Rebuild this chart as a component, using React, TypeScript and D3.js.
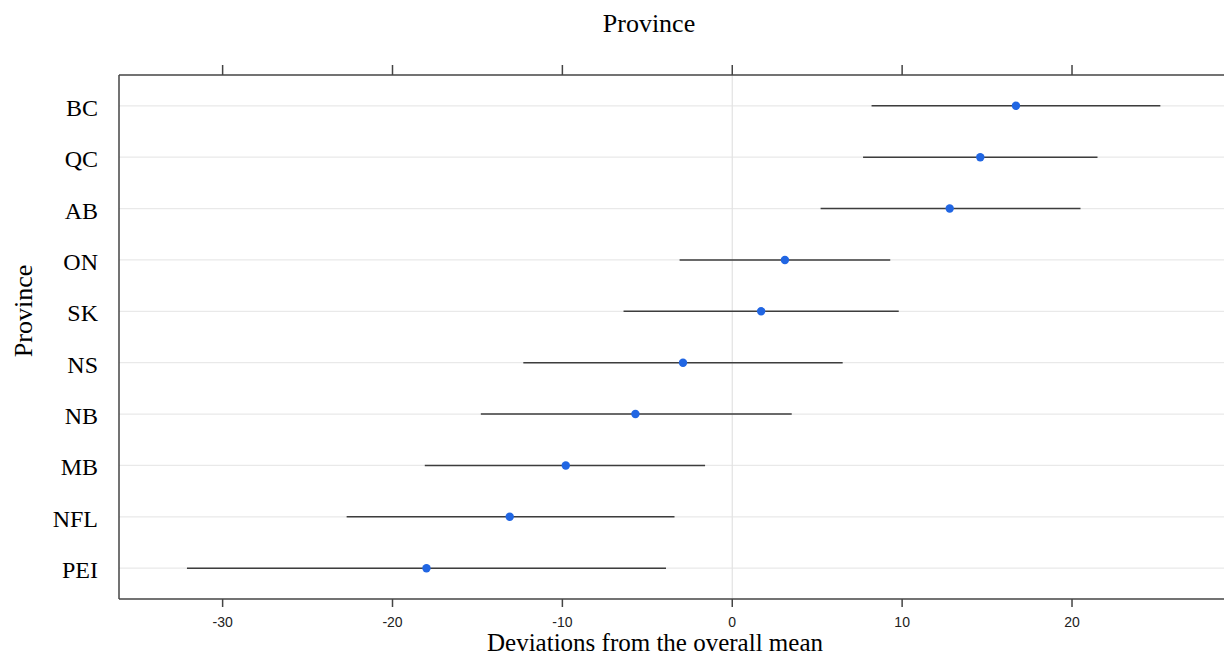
import React from 'react';
import * as d3 from 'd3';

// provinces from top to bottom, with estimate and interval ends
const provinces = ['BC', 'QC', 'AB', 'ON', 'SK', 'NS', 'NB', 'MB', 'NFL', 'PEI'];
const estimates = [16.7, 14.6, 12.8, 3.1, 1.7, -2.9, -5.7, -9.8, -13.1, -18.0];
const lowers = [8.2, 7.7, 5.2, -3.1, -6.4, -12.3, -14.8, -18.1, -22.7, -32.1];
const uppers = [25.2, 21.5, 20.5, 9.3, 9.8, 6.5, 3.5, -1.6, -3.4, -3.9];
const xTicks = [-30, -20, -10, 0, 10, 20];

const width = 1224;
const height = 658;
const margin = { top: 75, right: -6, bottom: 59, left: 119 };

const serif = '"Liberation Serif", "Times New Roman", serif';
const sans = '"Liberation Sans", Arial, sans-serif';

const App = () => {
  const x = d3.scaleLinear().domain([-36.1, 29.3]).range([margin.left, width - margin.right]);
  const y = d3.scalePoint<string>()
    .domain(provinces)
    .range([margin.top, height - margin.bottom])
    .padding(0.6);

  const rows = provinces.map((p, i) => ({ p, est: estimates[i], lo: lowers[i], hi: uppers[i] }));
  const top = margin.top;
  const bottom = height - margin.bottom;

  return (
    <svg width={width} height={height} style={{ position: 'absolute', left: 0, top: 0, background: '#fff' }}>
      {/* grid */}
      {rows.map(d => (
        <line key={'g' + d.p} x1={margin.left} x2={width} y1={y(d.p)} y2={y(d.p)} stroke="#e9e9e9" strokeWidth={1.2} />
      ))}
      <line x1={x(0)} x2={x(0)} y1={top} y2={bottom} stroke="#e2e2e2" strokeWidth={1.2} />

      {/* frame */}
      <line x1={margin.left} x2={width} y1={top} y2={top} stroke="#444" strokeWidth={1.5} />
      <line x1={margin.left} x2={width} y1={bottom} y2={bottom} stroke="#444" strokeWidth={1.5} />
      <line x1={margin.left} x2={margin.left} y1={top} y2={bottom} stroke="#444" strokeWidth={1.5} />

      {/* ticks */}
      {xTicks.map(t => (
        <g key={'t' + t}>
          <line x1={x(t)} x2={x(t)} y1={top - 10} y2={top} stroke="#444" strokeWidth={1.5} />
          <line x1={x(t)} x2={x(t)} y1={bottom} y2={bottom + 8} stroke="#444" strokeWidth={1.5} />
          <text x={x(t)} y={bottom + 28} textAnchor="middle" fontFamily={sans} fontSize={14} fill="#222">
            {t}
          </text>
        </g>
      ))}

      {/* intervals and estimates */}
      {rows.map(d => (
        <g key={d.p}>
          <line x1={x(d.lo)} x2={x(d.hi)} y1={y(d.p)} y2={y(d.p)} stroke="#3d3d3d" strokeWidth={1.6} />
          <circle cx={x(d.est)} cy={y(d.p)} r={4.2} fill="#2166e3" />
          <text x={98} y={(y(d.p) as number) + 10} textAnchor="end" fontFamily={serif} fontSize={24} fill="#000">
            {d.p}
          </text>
        </g>
      ))}

      {/* titles */}
      <text x={649} y={32} textAnchor="middle" fontFamily={serif} fontSize={26} fill="#000">Province</text>
      <text x={655} y={651} textAnchor="middle" fontFamily={serif} fontSize={25} fill="#000">
        Deviations from the overall mean
      </text>
      <text transform={`translate(32,311) rotate(-90)`} textAnchor="middle" fontFamily={serif} fontSize={26} fill="#000">
        Province
      </text>
    </svg>
  );
};

export default App;
